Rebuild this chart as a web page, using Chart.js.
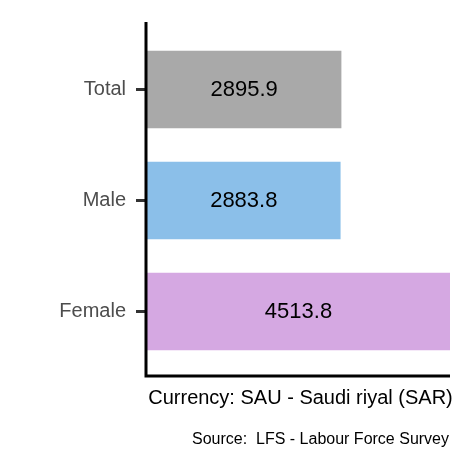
<!DOCTYPE html>
<html><head><script src="https://cdn.jsdelivr.net/npm/chart.js"></script>
<style>body{margin:0;background:#fff}#w{width:472px;height:472px}</style></head>
<body><div id="w"><canvas id="c"></canvas></div>
<script>
const categories = ["Total","Male","Female"];
const values = [2895.9, 2883.8, 4513.8];
const colors = ["#a9a9a9","#8bbfe9","#d5a8e2"];
const xTitle = "Currency: SAU - Saudi riyal (SAR)";
const source = "Source:  LFS - Labour Force Survey";
const deco = {
  id:'deco',
  afterDatasetsDraw(chart){
    const ctx=chart.ctx, a=chart.chartArea;
    ctx.save();
    ctx.strokeStyle='#000'; ctx.lineWidth=3;
    ctx.beginPath(); ctx.moveTo(a.left-1,a.top-12); ctx.lineTo(a.left-1,a.bottom+9);
    ctx.lineTo(a.right,a.bottom+9); ctx.stroke();
    ctx.fillStyle='#000'; ctx.textAlign='center'; ctx.textBaseline='middle';
    ctx.font='22px "Liberation Sans", Arial, sans-serif';
    chart.getDatasetMeta(0).data.forEach((b,i)=>{
      ctx.fillText(values[i].toFixed(1),(b.x+b.base)/2,b.y);
    });
    ctx.font='20px "Liberation Sans", Arial, sans-serif';
    ctx.fillText(xTitle,(a.left+a.right)/2+2,398);
    ctx.font='16px "Liberation Sans", Arial, sans-serif';
    ctx.textAlign='right';
    ctx.fillText(source,449,440);
    ctx.restore();
  }
};
new Chart(document.getElementById('c'),{
  type:'bar',
  data:{labels:categories,datasets:[{data:values,backgroundColor:colors,barPercentage:0.7,categoryPercentage:1}]},
  options:{
    indexAxis:'y',responsive:true,maintainAspectRatio:false,animation:false,
    layout:{padding:{left:0,right:22,top:34,bottom:105}},
    plugins:{legend:{display:false},tooltip:{enabled:false}},
    scales:{
      x:{display:false,min:0,max:4513.8},
      y:{afterFit(s){s.width=147;},
        border:{display:false},
        grid:{offset:false,drawOnChartArea:false,tickLength:11,color:'#333',lineWidth:3},
        ticks:{color:'#4d4d4d',padding:10,font:{size:20,family:'"Liberation Sans", Arial, sans-serif'}}}
    }
  },
  plugins:[deco]
});
</script></body></html>
